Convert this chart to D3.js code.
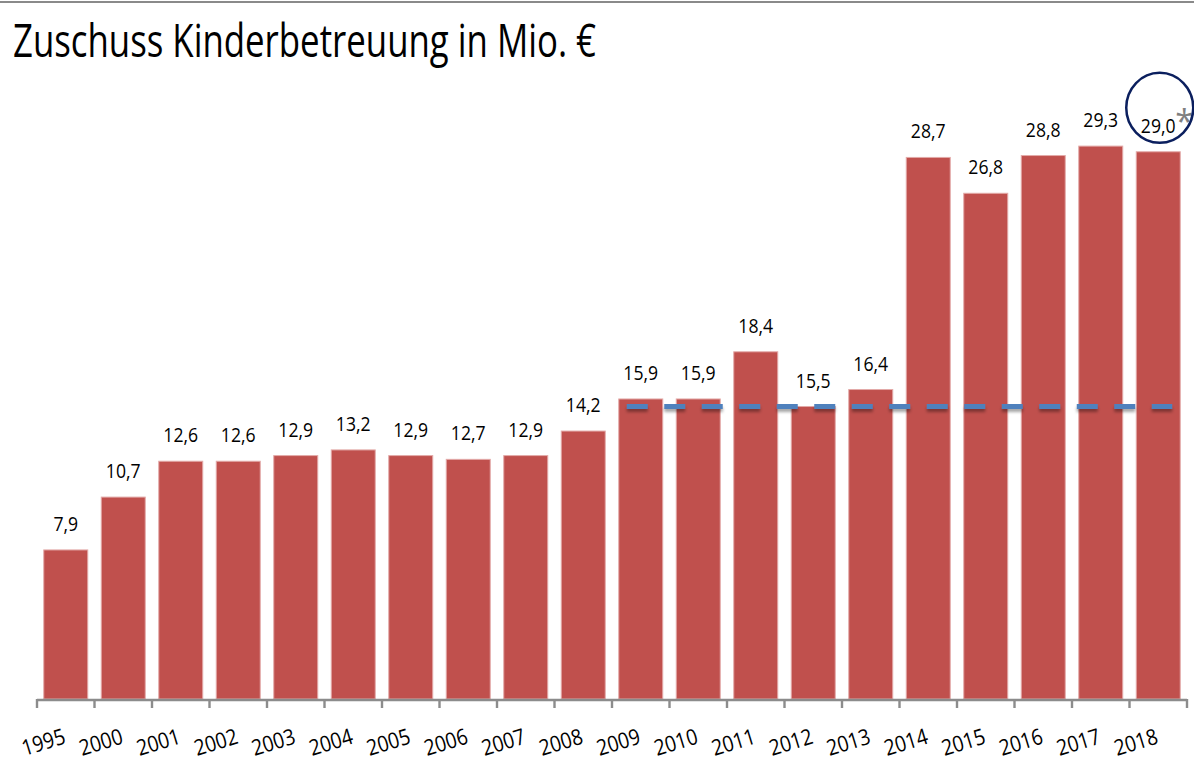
<!DOCTYPE html>
<html>
<head>
<meta charset="utf-8">
<script src="https://cdn.jsdelivr.net/npm/d3@7"></script>
<style>
  body { margin: 0; background: #fff; }
  text { font-family: "Open Sans", "DejaVu Sans", sans-serif; }
</style>
</head>
<body>
<div id="chart"></div>
<script>
// Data
const years = ["1995", "2000", "2001", "2002", "2003", "2004", "2005", "2006", "2007", "2008",
    "2009", "2010", "2011", "2012", "2013", "2014", "2015", "2016", "2017", "2018"];
const values = [7.9, 10.7, 12.6, 12.6, 12.9, 13.2, 12.9, 12.7, 12.9, 14.2,
    15.9, 15.9, 18.4, 15.5, 16.4, 28.7, 26.8, 28.8, 29.3, 29.0];
const refValue = 15.5;
const refFrom = "2009", refTo = "2018";
const title = "Zuschuss Kinderbetreuung in Mio. €";

const data = years.map((y, i) => ({year: y, value: values[i]}));

const width = 1194, height = 782;

const svg = d3.select("#chart")
    .append("svg")
    .attr("width", width)
    .attr("height", height);

// shadow for the dashed line (user space, the line has no height)
const defs = svg.append("defs");
const f = defs.append("filter").attr("id", "shadow")
    .attr("filterUnits", "userSpaceOnUse")
    .attr("x", 0).attr("y", 0).attr("width", width).attr("height", height);
f.append("feDropShadow")
    .attr("dx", 0).attr("dy", 3).attr("stdDeviation", 1.6)
    .attr("flood-color", "#000").attr("flood-opacity", 0.35);

// top rule
svg.append("line")
    .attr("x1", 0).attr("x2", width)
    .attr("y1", 2).attr("y2", 2)
    .attr("stroke", "#8a8a8a")
    .attr("stroke-width", 2);

// title
svg.append("text")
    .attr("x", 13)
    .attr("y", 57)
    .attr("font-size", 46)
    .attr("textLength", 583)
    .attr("lengthAdjust", "spacingAndGlyphs")
    .attr("fill", "#000")
    .text(title);

// scales
const x = d3.scaleBand()
    .domain(years)
    .range([37, 1187])
    .paddingInner(0.235)
    .paddingOuter(0.1175);

const y = d3.scaleLinear()
    .domain([0, 30])
    .range([699, 699 - 30 * 18.87]);

const step = x.step();
const x0 = x.range()[0];

// bars
svg.selectAll("rect.bar")
    .data(data)
    .join("rect")
    .attr("class", "bar")
    .attr("x", d => x(d.year))
    .attr("y", d => y(d.value))
    .attr("width", x.bandwidth())
    .attr("height", d => y(0) - y(d.value))
    .attr("fill", "#c0504d")
    .attr("stroke", "#e3aaa8")
    .attr("stroke-width", 1);

// value labels (narrow, like the original font)
svg.selectAll("text.val")
    .data(data)
    .join("text")
    .attr("class", "val")
    .attr("transform", d => `translate(${x(d.year) + x.bandwidth() / 2}, ${y(d.value) - 19}) scale(0.86,1)`)
    .attr("text-anchor", "middle")
    .attr("font-size", 20.5)
    .attr("fill", "#000")
    .text(d => d3.format(".1f")(d.value).replace(".", ","));

// asterisk on last value
const last = data[data.length - 1];
svg.append("text")
    .attr("x", x(last.year) + x.bandwidth() / 2 + 17)
    .attr("y", y(last.value) - 19)
    .attr("font-size", 33)
    .attr("fill", "#808080")
    .text("*");

// circle round last label
svg.append("ellipse")
    .attr("cx", x(last.year) + x.bandwidth() / 2 + 1.5)
    .attr("cy", y(last.value) - 44)
    .attr("rx", 33.5)
    .attr("ry", 35)
    .attr("fill", "none")
    .attr("stroke", "#0b1f5e")
    .attr("stroke-width", 2.5);

// dashed reference line
svg.append("line")
    .attr("x1", x(refFrom) + 8)
    .attr("x2", x(refTo) + x.bandwidth() - 8)
    .attr("y1", y(refValue))
    .attr("y2", y(refValue))
    .attr("stroke", "#4f81bd")
    .attr("stroke-width", 5)
    .attr("stroke-dasharray", "21,16.5")
    .attr("filter", "url(#shadow)");

// x axis (category boundaries)
const axis = svg.append("g");
axis.append("line")
    .attr("x1", x0).attr("x2", x.range()[1])
    .attr("y1", 700).attr("y2", 700)
    .attr("stroke", "#8c8c8c")
    .attr("stroke-width", 2.4);
axis.selectAll("line.tick")
    .data(d3.range(years.length + 1))
    .join("line")
    .attr("class", "tick")
    .attr("x1", i => x0 + i * step)
    .attr("x2", i => x0 + i * step)
    .attr("y1", 699).attr("y2", 708)
    .attr("stroke", "#8c8c8c")
    .attr("stroke-width", 2.4);

axis.selectAll("text")
    .data(years)
    .join("text")
    .attr("transform", d => `translate(${x(d) + x.bandwidth() / 2 + 1}, 743) rotate(-17) scale(0.88,1)`)
    .attr("text-anchor", "end")
    .attr("font-size", 22)
    .attr("fill", "#000")
    .text(d => d);
</script>
</body>
</html>
